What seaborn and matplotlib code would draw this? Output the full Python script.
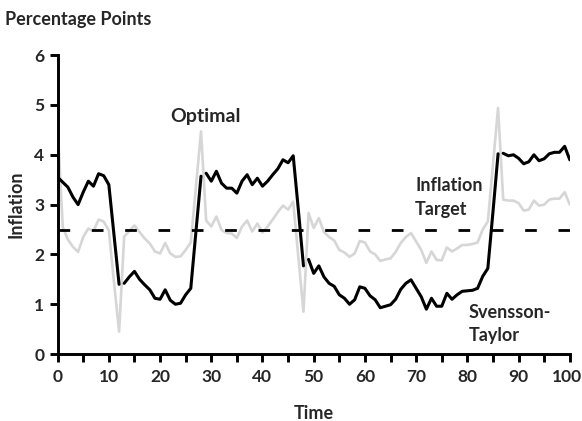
import numpy as np
import pandas as pd
import matplotlib
matplotlib.use("Agg")
import matplotlib.pyplot as plt
import matplotlib.transforms as mtransforms
import seaborn as sns

# time axis (0..100)
time = list(range(101))

# Svensson-Taylor rule inflation (black)
svensson_taylor = [
    3.55, 3.45, 3.35, 3.15, 3.00, 3.25, 3.47, 3.37, 3.62, 3.58,
    3.40, 2.40, 1.40, 1.42, 1.55, 1.66, 1.50, 1.39, 1.29, 1.12,
    1.10, 1.29, 1.08, 1.00, 1.02, 1.19, 1.32, 2.45, 3.57, 3.63,
    3.47, 3.67, 3.43, 3.33, 3.33, 3.23, 3.47, 3.60, 3.40, 3.53,
    3.37, 3.47, 3.60, 3.72, 3.90, 3.84, 3.98, 2.90, 1.77, 1.90,
    1.62, 1.77, 1.55, 1.42, 1.36, 1.19, 1.12, 1.00, 1.09, 1.35,
    1.32, 1.17, 1.09, 0.93, 0.96, 0.99, 1.10, 1.30, 1.42, 1.49,
    1.32, 1.15, 0.90, 1.12, 0.96, 0.96, 1.22, 1.10, 1.19, 1.26,
    1.27, 1.28, 1.32, 1.56, 1.72, 2.85, 4.02, 4.03, 3.98, 4.00,
    3.93, 3.82, 3.86, 4.00, 3.88, 3.92, 4.02, 4.05, 4.05, 4.17,
    3.90,
]
# segment ids: the black line breaks after each regime switch
segment = [0] * 13 + [1] * 16 + [2] * 20 + [3] * 38 + [4] * 14

# optimal policy inflation (grey)
optimal = [
    4.57, 2.55, 2.30, 2.15, 2.05, 2.35, 2.52, 2.47, 2.70, 2.66,
    2.48, 1.45, 0.45, 2.36, 2.47, 2.58, 2.45, 2.32, 2.22, 2.06,
    2.02, 2.23, 2.02, 1.95, 1.96, 2.09, 2.24, 3.35, 4.47, 2.68,
    2.56, 2.76, 2.49, 2.43, 2.42, 2.33, 2.56, 2.68, 2.46, 2.62,
    2.44, 2.56, 2.70, 2.85, 2.98, 2.90, 3.06, 1.95, 0.85, 2.83,
    2.53, 2.73, 2.45, 2.35, 2.28, 2.09, 2.04, 1.95, 2.02, 2.27,
    2.24, 2.06, 2.00, 1.87, 1.90, 1.92, 2.05, 2.23, 2.35, 2.43,
    2.26, 2.09, 1.83, 2.06, 1.89, 1.88, 2.14, 2.06, 2.12, 2.19,
    2.19, 2.21, 2.24, 2.50, 2.66, 3.80, 4.94, 3.10, 3.08, 3.08,
    3.03, 2.88, 2.90, 3.08, 2.98, 3.00, 3.10, 3.12, 3.12, 3.25,
    3.00,
]

inflation_target = 2.5

black_df = pd.DataFrame({"time": time, "inflation": svensson_taylor, "segment": segment})
grey_df = pd.DataFrame({"time": time, "inflation": optimal})

sns.set_style("ticks")
plt.rcParams["font.family"] = ["Lato", "DejaVu Sans"]
plt.rcParams["font.weight"] = "bold"

fig = plt.figure(figsize=(5.82, 4.21), dpi=100)
ax = fig.add_axes([0.099, 0.159, 0.880, 0.710])

sns.lineplot(data=grey_df, x="time", y="inflation", color="#d6d6d6", linewidth=1.9, ax=ax)
ax.axhline(inflation_target, color="black", linewidth=2.0, linestyle=(0, (4.2, 7.8)))
sns.lineplot(data=black_df, x="time", y="inflation", units="segment", estimator=None,
             color="black", linewidth=2.2, ax=ax)

ax.set_xlim(0, 100)
ax.set_ylim(0, 6)
ax.set_xticks(range(0, 101, 10))
ax.set_xticks(range(0, 101, 5), minor=True)
ax.set_yticks(range(0, 7))
ax.tick_params(axis="both", which="both", direction="out", length=6, width=2.1,
               labelsize=12.5, color="black")
ax.tick_params(axis="x", pad=5)
for lab in ax.get_xticklabels() + ax.get_yticklabels():
    lab.set_fontweight("bold")
# keep the "100" label inside the canvas
last = ax.get_xticklabels()[-1]
last.set_transform(last.get_transform() + mtransforms.ScaledTranslation(-3 / 100, 0, fig.dpi_scale_trans))

for side in ["top", "right"]:
    ax.spines[side].set_visible(False)
for side in ["left", "bottom"]:
    ax.spines[side].set_linewidth(2.1)
    ax.spines[side].set_color("black")

ax.set_xlabel("Time", fontsize=13, fontweight="bold", labelpad=14)
ax.set_ylabel("Inflation", fontsize=13, fontweight="bold", labelpad=7)

fig.text(0.009, 0.953, "Percentage Points", fontsize=13, fontweight="bold", va="center")
ax.text(28.8, 4.77, "Optimal", fontsize=14, fontweight="bold", ha="center", va="center")
ax.text(69.8, 3.14, "Inflation\nTarget", fontsize=13, fontweight="bold",
        ha="left", va="center", linespacing=1.45)
ax.text(80.2, 0.6, "Svensson-\nTaylor", fontsize=13, fontweight="bold",
        ha="left", va="center", linespacing=1.4)

fig.savefig("out.png", dpi=100)
